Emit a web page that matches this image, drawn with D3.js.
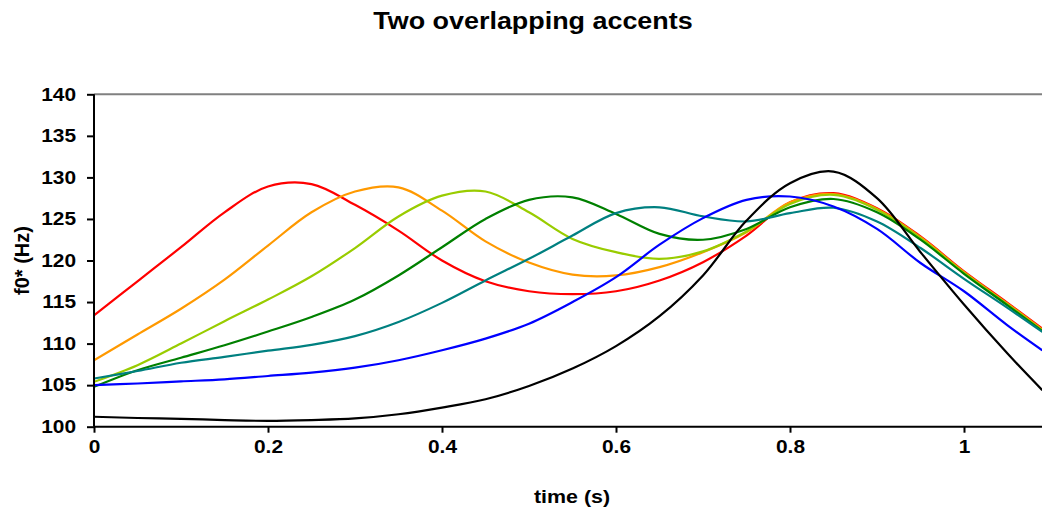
<!DOCTYPE html>
<html>
<head>
<meta charset="utf-8">
<script src="https://cdn.jsdelivr.net/npm/d3@7"></script>
<style>
body { margin: 0; background: #ffffff; }
svg text { font-family: "Liberation Sans", Arial, sans-serif; font-weight: bold; fill: #000000; }
</style>
</head>
<body>
<svg id="chart" width="1042" height="509"></svg>
<script>
// time points (s) shared by every contour
var time_points = [0, 0.05, 0.10, 0.15, 0.20, 0.25, 0.30, 0.35, 0.40, 0.45, 0.50, 0.55, 0.60, 0.65, 0.70, 0.75, 0.80, 0.85, 0.90, 0.95, 1.00, 1.05, 1.09];

// f0* (Hz)
var f0_red    = [113.4, 117.5, 121.6, 125.8, 128.9, 129.2, 126.7, 123.6, 120.0, 117.5, 116.3, 115.95, 116.3, 117.6, 119.8, 123.0, 127.0, 128.1, 126.3, 122.9, 118.7, 114.9, 111.8];
var f0_orange = [108.0, 111.1, 114.2, 117.7, 121.8, 125.8, 128.3, 128.8, 126.0, 122.3, 119.75, 118.3, 118.2, 119.2, 121.0, 123.4, 127.0, 128.0, 126.2, 122.8, 118.6, 114.8, 111.7];
var f0_lime   = [105.4, 107.4, 110.0, 112.7, 115.3, 118.1, 121.5, 125.3, 127.8, 128.3, 125.8, 122.6, 121.0, 120.2, 121.1, 123.5, 126.8, 127.9, 126.1, 122.7, 118.5, 114.7, 111.6];
var f0_green  = [104.8, 106.8, 108.3, 109.8, 111.45, 113.2, 115.3, 118.2, 121.6, 125.0, 127.3, 127.6, 125.6, 123.2, 122.5, 123.8, 126.4, 127.4, 125.8, 122.5, 118.4, 114.6, 111.5];
var f0_teal   = [105.8, 106.7, 107.7, 108.4, 109.15, 109.85, 110.9, 112.6, 114.9, 117.6, 120.2, 123.0, 125.7, 126.4, 125.3, 124.7, 125.7, 126.35, 124.7, 121.5, 117.8, 114.3, 111.4];
var f0_blue   = [105.0, 105.2, 105.45, 105.7, 106.1, 106.5, 107.1, 108.0, 109.2, 110.6, 112.4, 115.0, 118.0, 121.9, 125.1, 127.3, 127.7, 126.5, 123.8, 119.7, 116.3, 112.2, 109.2];
var f0_black  = [101.2, 101.05, 100.95, 100.8, 100.7, 100.8, 101.0, 101.5, 102.3, 103.3, 104.9, 107.0, 109.7, 113.3, 118.2, 124.8, 129.3, 130.7, 127.5, 121.0, 114.7, 108.8, 104.4];

var series_values = [f0_red, f0_orange, f0_lime, f0_green, f0_teal, f0_blue, f0_black];
var series_colors = ["#ff0000", "#ff9900", "#99cc00", "#008000", "#008080", "#0000ff", "#000000"];

var x_ticks = [0, 0.2, 0.4, 0.6, 0.8, 1];
var y_ticks = [100, 105, 110, 115, 120, 125, 130, 135, 140];

var svg = d3.select("#chart");

var plot_left = 94;
var plot_right = 1042;
var plot_top = 94.3;
var plot_bottom = 426.7;

// text in the original is a little stretched sideways
var stretch = 1.16;

// 0.2 s is 174 px, the right edge cuts the axis at about 1.09 s
var x = d3.scaleLinear().domain([0, (plot_right - plot_left) / 870]).range([plot_left, plot_right]);
var y = d3.scaleLinear().domain([100, 140]).range([plot_bottom, plot_top]);

svg.append("clipPath").attr("id", "plot_clip")
    .append("rect")
    .attr("x", plot_left).attr("y", plot_top - 10)
    .attr("width", plot_right - plot_left).attr("height", plot_bottom - plot_top + 10);

// gray line at the top of the plot
svg.append("line")
    .attr("x1", x(0)).attr("x2", plot_right)
    .attr("y1", y(140)).attr("y2", y(140))
    .attr("stroke", "#808080")
    .attr("stroke-width", 2);

var line = d3.line()
    .x(function(d) { return x(d[0]); })
    .y(function(d) { return y(d[1]); })
    .curve(d3.curveCatmullRom.alpha(0.5));

var lines_g = svg.append("g").attr("clip-path", "url(#plot_clip)");

for(var s_index = 0; s_index < series_values.length; s_index++)
{
    var points = [];
    for(var i = 0; i < time_points.length; i++)
    {
        points.push([time_points[i], series_values[s_index][i]]);
    }
    lines_g.append("path")
        .datum(points)
        .attr("fill", "none")
        .attr("stroke", series_colors[s_index])
        .attr("stroke-width", 2.2)
        .attr("stroke-linejoin", "round")
        .attr("d", line);
}

// axes
var x_axis = d3.axisBottom(x).tickValues(x_ticks).tickSize(6).tickPadding(8).tickFormat(d3.format("~g"));
var y_axis = d3.axisLeft(y).tickValues(y_ticks).tickSize(7).tickPadding(8);

var x_axis_g = svg.append("g").attr("transform", "translate(0," + plot_bottom + ")").call(x_axis);
var y_axis_g = svg.append("g").attr("transform", "translate(" + plot_left + ",0)").call(y_axis);

x_axis_g.select(".domain").attr("d", "M" + plot_left + ",0H" + plot_right).attr("stroke", "#000").attr("stroke-width", 2);
y_axis_g.select(".domain").attr("d", "M0," + plot_top + "V" + plot_bottom).attr("stroke", "#000").attr("stroke-width", 2);

x_axis_g.selectAll(".tick line").attr("stroke", "#000").attr("stroke-width", 2);
y_axis_g.selectAll(".tick line").attr("stroke", "#000").attr("stroke-width", 2);

x_axis_g.selectAll(".tick text")
    .attr("font-size", 18).attr("font-family", null)
    .attr("transform", "scale(" + stretch + ",1)");
y_axis_g.selectAll(".tick text")
    .attr("font-size", 18).attr("font-family", null)
    .attr("x", 0)
    .attr("transform", "translate(-18,0) scale(" + stretch + ",1)");

// titles
svg.append("text")
    .attr("transform", "translate(533,29) scale(1.17,1)")
    .attr("text-anchor", "middle")
    .attr("font-size", 23)
    .text("Two overlapping accents");

svg.append("text")
    .attr("transform", "translate(572,503) scale(1.19,1)")
    .attr("text-anchor", "middle")
    .attr("font-size", 18)
    .text("time (s)");

svg.append("text")
    .attr("transform", "translate(29," + ((plot_top + plot_bottom) / 2) + ") rotate(-90)")
    .attr("text-anchor", "middle")
    .attr("font-size", 20)
    .text("f0* (Hz)");
</script>
</body>
</html>
